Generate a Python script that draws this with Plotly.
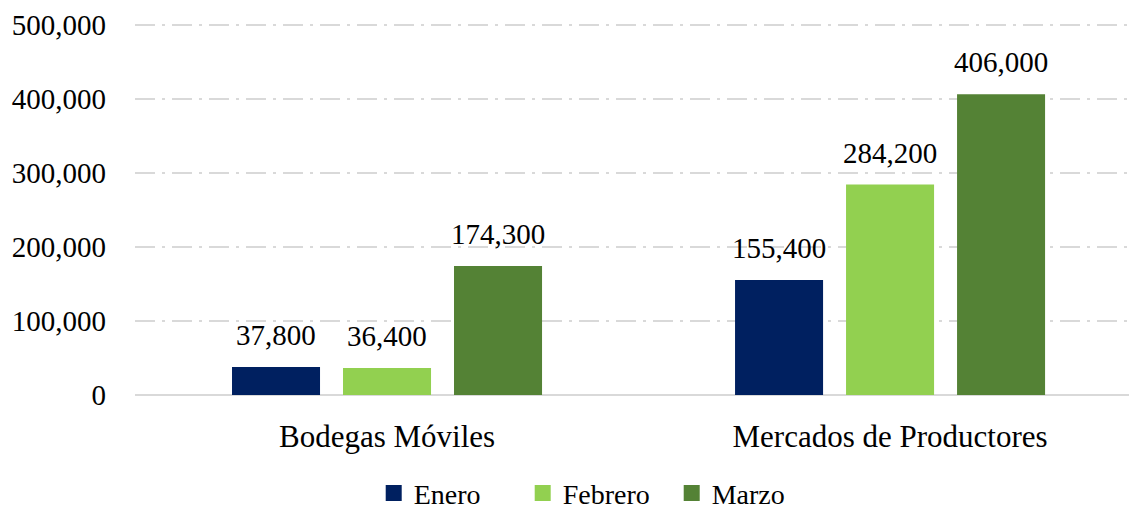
import plotly.graph_objects as go

categories = ["Bodegas Móviles", "Mercados de Productores"]
series_names = ["Enero", "Febrero", "Marzo"]
enero = [37800, 155400]
febrero = [36400, 284200]
marzo = [174300, 406000]
colors = ["#002060", "#92D050", "#548235"]
y_ticks = [0, 100000, 200000, 300000, 400000, 500000]

FONT = "Liberation Serif, DejaVu Serif, serif"
FS = 29
fig = go.Figure()
for i, (name, vals, col) in enumerate(zip(series_names, [enero, febrero, marzo], colors)):
    fig.add_trace(go.Bar(
        name=name, x=categories, y=vals, marker_color=col,
        marker_line_width=0, showlegend=False,
    ))
    for c, v in zip(categories, vals):
        fig.add_annotation(x=c, y=v, text=f"{v:,}", showarrow=False,
                           xshift=(i - 1) * 111.3, yshift=14, yanchor="bottom",
                           font=dict(family=FONT, size=FS, color="#000000"))
    fig.add_trace(go.Scatter(
        name=name, x=[None], y=[None], mode="markers",
        marker=dict(symbol="square", size=20, color=col), showlegend=True,
    ))

fig.update_layout(
    width=1129, height=510,
    margin=dict(l=135, r=0, t=21, b=115, autoexpand=False),
    paper_bgcolor="white", plot_bgcolor="white",
    barmode="group", bargap=0.338, bargroupgap=0.207,
    font=dict(family=FONT, size=FS, color="#000000"),
    showlegend=True,
    legend=dict(orientation="h", x=0.465, xanchor="center", y=-0.196, yanchor="top",
                font=dict(family=FONT, size=28), itemwidth=30, traceorder="normal",
                entrywidth=104, entrywidthmode="pixels", borderwidth=0),
)
fig.update_xaxes(
    type="category", range=[-0.501, 1.475], automargin=False,
    showgrid=False, showline=False, zeroline=False,
    ticks="outside", ticklen=14, tickcolor="rgba(0,0,0,0)",
    tickfont=dict(family=FONT, size=31),
)
fig.update_yaxes(
    range=[0, 505000], tickvals=y_ticks, automargin=False,
    ticktext=[f"{v:,}" for v in y_ticks],
    showgrid=True, gridcolor="#d9d9d9", gridwidth=2,
    griddash="20px,7px,3px,7px",
    zeroline=True, zerolinecolor="#d9d9d9", zerolinewidth=2,
    showline=False, ticks="", ticklabelstandoff=28,
    tickfont=dict(family=FONT, size=FS),
)
fig.write_html("out.html", config={"displayModeBar": False},
               post_script="document.body.style.margin='0';")
